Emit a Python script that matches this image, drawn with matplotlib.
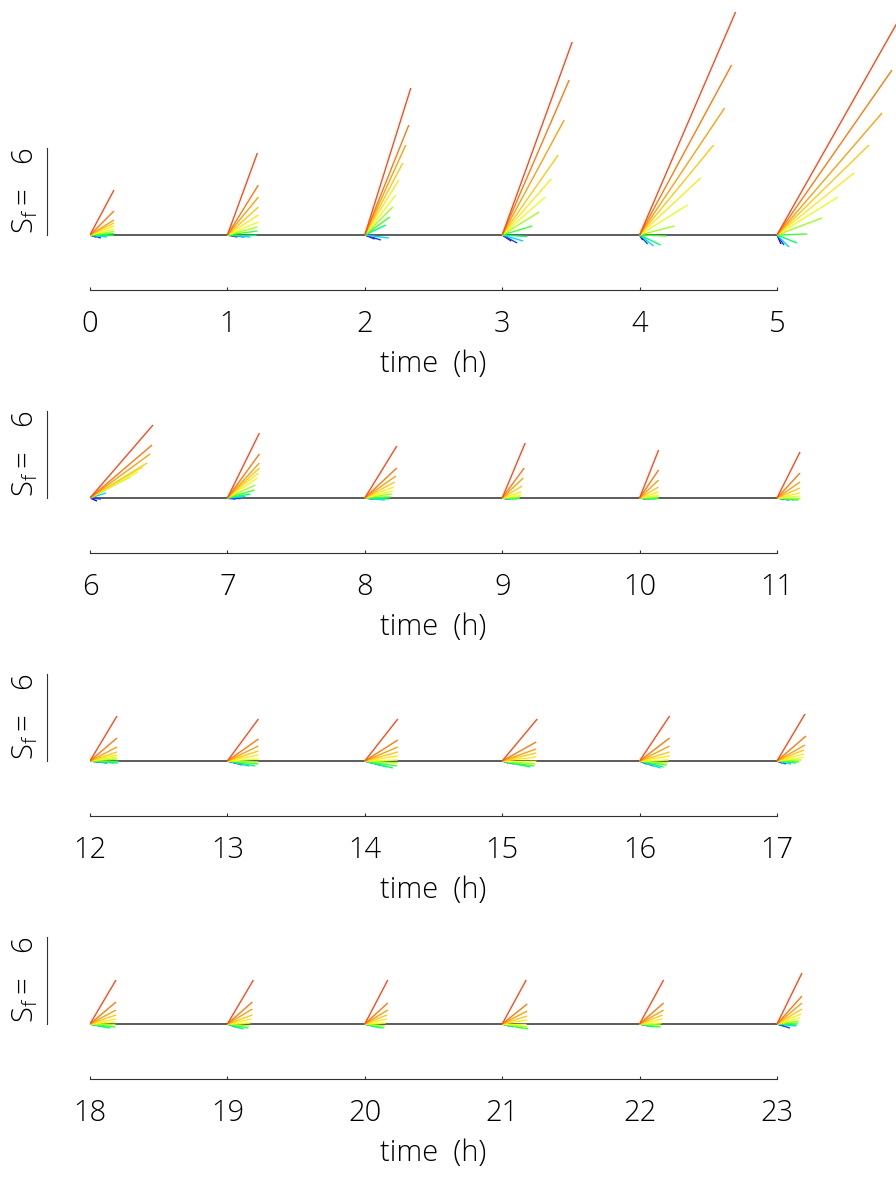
import matplotlib
matplotlib.use('Agg')
import matplotlib.pyplot as plt

# hours of the day, one stick fan per hour
hours = list(range(24))

# stick components per hour, level 0 = surface (red) ... level 11 = deepest (purple)
u = [
    [24, 24, 24, 24, 24, 24, 24, 24, 23, 17, 11, 6],
    [30, 31, 31, 31, 31, 31, 30, 30, 29, 23, 17, 10],
    [46, 44, 41, 38, 34, 31, 28, 25, 21, 24, 16, 10],
    [70, 67, 62, 56, 49, 43, 37, 30, 25, 21, 15, 9],
    [96, 92, 85, 74, 61, 48, 35, 27, 21, 14, 8, 3],
    [124, 115, 105, 92, 77, 61, 45, 30, 20, 12, 7, 4],
    [63, 62, 60, 57, 53, 48, 40, 30, 22, 16, 11, 7],
    [32, 32, 32, 32, 31, 30, 28, 27, 23, 18, 13, 8],
    [32, 32, 31, 30, 29, 28, 27, 26, 24, 20, 14, 8],
    [23, 22, 21, 20, 19, 19, 18, 17, 15, 11, 8, 5],
    [19, 19, 19, 19, 19, 19, 19, 18, 17, 14, 10, 6],
    [23, 23, 23, 23, 23, 23, 23, 22, 21, 17, 12, 7],
    [27, 27, 27, 27, 27, 27, 27, 28, 28, 24, 17, 10],
    [31, 31, 31, 31, 31, 31, 31, 31, 28, 22, 15, 8],
    [33, 33, 33, 33, 33, 33, 33, 32, 28, 22, 15, 8],
    [35, 34, 34, 34, 34, 34, 33, 32, 28, 19, 12, 6],
    [30, 30, 30, 30, 30, 29, 28, 27, 24, 21, 14, 7],
    [28, 29, 28, 27, 27, 26, 24, 22, 19, 14, 9, 5],
    [26, 26, 26, 26, 26, 25, 25, 25, 20, 15, 10, 5],
    [26, 25, 25, 25, 24, 23, 22, 21, 16, 12, 8, 4],
    [23, 23, 23, 22, 22, 21, 20, 19, 16, 12, 8, 4],
    [24, 25, 25, 25, 25, 24, 25, 26, 20, 11, 7, 4],
    [24, 24, 24, 23, 23, 22, 21, 21, 18, 14, 9, 5],
    [25, 25, 25, 25, 24, 23, 22, 21, 20, 19, 13, 7],
]
v = [
    [45, 24, 15, 12, 9, 6, 3.5, 1.5, 0, -2, -3, -2],
    [82, 50, 38, 28, 20, 13, 8, 4, 0, -2, -2, -2],
    [147, 110, 90, 72, 55, 40, 28, 18, 10, -3, -5, -4],
    [193, 155, 115, 80, 56, 38, 23, 9, -1.5, -6, -8, -6],
    [223, 170, 127, 90, 57, 30, 9, -1, -10, -11, -9, -5],
    [219, 165, 122, 90, 62, 38, 17, 1, -8, -12, -10, -9],
    [73, 53, 44, 35, 31, 26, 21, 17, 12, 5, -1, -3],
    [65, 44, 35, 30, 25, 20, 13, 8, 4, 1.5, 0, -1],
    [52, 30, 22, 16, 11, 7, 4, 1, -1, -2, -1, -1],
    [55, 30, 20, 12, 6, 3, 1, 0, -1, -1, -1, -1],
    [48, 28, 18, 11, 6, 3, 1, 0, -1, -1, -1, -1],
    [46, 25, 16, 10, 5, 2, 0, -1, -2, -2, -2, -1],
    [45, 23, 14, 9, 6, 4, 2, 0, -2, -2, -2, -1],
    [42, 22, 15, 10, 6, 2, -1, -3, -5, -5, -4, -2],
    [42, 21, 14, 9, 5, 1, -2, -5, -7, -6, -4, -2],
    [42, 19, 12, 8, 4, 0, -3, -5, -6, -4, -3, -2],
    [45, 23, 15, 9, 5, 1, -2, -4, -6, -7, -5, -3],
    [47, 25, 16, 11, 7, 3.5, 1, -1, -2, -3, -3, -2],
    [44, 22, 14, 9, 5, 2, 0, -3, -4, -3, -2, -1],
    [44, 22, 15, 9, 5, 1, -2, -4, -5, -4, -3, -1],
    [44, 21, 14, 9, 5, 1, -2, -4, -4, -3, -2, -1],
    [44, 20, 13, 8, 4, 0, -3, -5, -4, -3, -2, -1],
    [44, 21, 14, 9, 5, 1, -1, -3, -3, -3, -2, -1],
    [51, 28, 21, 15, 10, 6, 3, 1, -1, -2, -4, -2],
]

level_colors = ['#ff4a1c', '#ff7a10', '#ffa010', '#ffc818', '#ffe820', '#e8ff20',
                '#a0ff20', '#40ff30', '#00ff70', '#00d8ff', '#1040ff', '#3a0090']

PX_PER_HOUR = 137.4
ink = '#303030'
font = 'Open Sans'
fw = 'light'
fs = 21

fig = plt.figure(figsize=(8.96, 11.78), dpi=100)
W, H = 896.0, 1178.0

for k in range(4):
    yb = 235 + 263 * k
    ax = fig.add_axes([90 / W, 1 - (yb + 55) / H, 806 / W, 290 / H])
    ax.patch.set_alpha(0)
    t0 = 6 * k
    xmax = t0 + 806 / PX_PER_HOUR
    ax.set_xlim(t0, xmax)
    ax.set_ylim(-55, 235)

    ax.plot([t0, t0 + 5], [0, 0], color=ink, lw=1.1, zorder=1)

    for h in hours[t0:t0 + 6]:
        for lev in range(len(u[h]) - 1, -1, -1):
            ax.plot([h, h + u[h][lev] / PX_PER_HOUR], [0, v[h][lev]],
                    color=level_colors[lev], lw=1.0, zorder=2, solid_capstyle='butt')

    for s in ['top', 'right']:
        ax.spines[s].set_visible(False)
    ax.spines['bottom'].set_bounds(t0, t0 + 5)
    ax.spines['bottom'].set_color(ink)
    ax.spines['left'].set_position(('outward', 43 * 0.72))
    ax.spines['left'].set_bounds(0, 87)
    ax.spines['left'].set_color(ink)
    ax.set_yticks([])

    ax.set_xticks(hours[t0:t0 + 6])
    ax.set_xticklabels([str(h) for h in hours[t0:t0 + 6]], fontsize=fs,
                       family=font, fontweight=fw)
    ax.tick_params(axis='x', direction='in', length=2.5, width=0.8, color=ink, pad=14)
    ax.set_xlabel('time  (h)', fontsize=fs, family=font, fontweight=fw)
    ax.xaxis.set_label_coords(2.5 / (xmax - t0), -0.205)

    fig.text(25 / W, 1 - (yb - 45) / H, r'$\mathregular{S_f= \ \ 6}$', rotation=90,
             fontsize=fs, family=font, fontweight=fw, ha='center', va='center')

fig.savefig('out.png', dpi=100)
